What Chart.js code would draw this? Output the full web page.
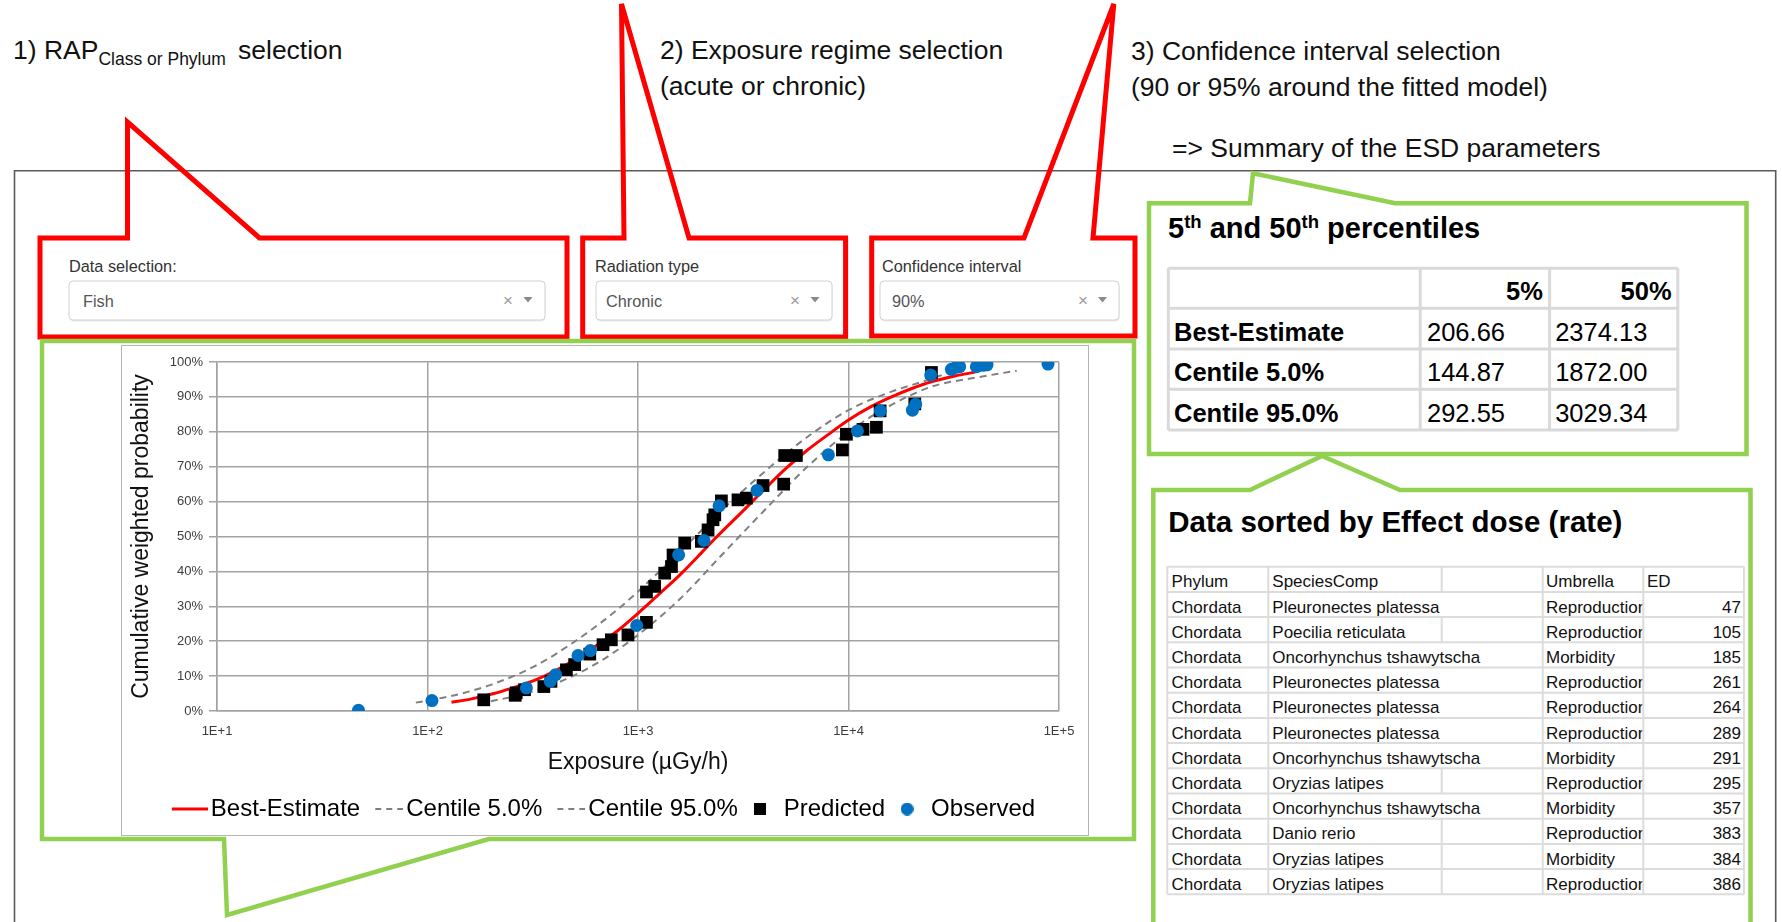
<!DOCTYPE html>
<html>
<head>
<meta charset="utf-8">
<title>ESD fit – Fish, chronic exposure</title>
<script src="https://cdn.jsdelivr.net/npm/chart.js@4.4.1/dist/chart.umd.min.js"></script>
<style>
  html, body { margin: 0; padding: 0; background: #fff; }
  body { width: 1782px; height: 922px; position: relative; overflow: hidden;
         font-family: 'Liberation Sans', Arial, sans-serif; }
  #overlay { position: absolute; left: 0; top: 0; }
  #chartBox { position: absolute; left: 121px; top: 345px; width: 968px; height: 491px; }
  #chartBox canvas { position: absolute; left: 0; top: 0; }
  #chartFrame { position: absolute; left: 121px; top: 345px; width: 968px; height: 491px;
                border: 1px solid #b4b4b4; box-sizing: border-box; pointer-events: none; }
</style>
</head>
<body>
<svg id="overlay" width="1782" height="922" xmlns="http://www.w3.org/2000/svg"></svg>
<div id="chartBox"><canvas id="esd" width="968" height="491"></canvas></div>
<div id="chartFrame"></div>

<script>
// ---------------- data ----------------
// Fitted species sensitivity curves (exposure in µGy/h, cumulative probability)
const bestX = [130, 160, 206.66, 250, 320, 400, 500, 630, 800, 1000, 1260, 1600, 2000, 2374.13,
               3200, 4000, 5000, 6300, 8000, 10000, 12600, 16000, 20000, 25000, 32000, 40000];
const bestP = [0.025, 0.034, 0.05, 0.065, 0.087, 0.114, 0.147, 0.186, 0.23, 0.28, 0.335, 0.393, 0.453, 0.5,
               0.577, 0.636, 0.693, 0.745, 0.792, 0.834, 0.87, 0.9, 0.924, 0.944, 0.96, 0.971];

const c5X = [88, 100, 125, 144.87, 200, 320, 500, 800, 1260, 1872, 2500, 4000, 6300, 10000, 16000, 22000, 29500];
const c5P = [0.024, 0.03, 0.041, 0.05, 0.075, 0.127, 0.199, 0.291, 0.399, 0.5, 0.575, 0.686, 0.783, 0.862, 0.915, 0.942, 0.968];

const c95X = [200, 250, 292.55, 400, 630, 1000, 1600, 2500, 3029.34, 4000, 6300, 10000, 16000, 25000, 40000, 63000];
const c95P = [0.028, 0.04, 0.05, 0.077, 0.135, 0.218, 0.324, 0.447, 0.5, 0.576, 0.697, 0.8, 0.877, 0.93, 0.955, 0.975];

// Predicted and observed effect dose rates
const predX = [185, 261, 264, 289, 357, 386, 457, 500, 590, 682, 747, 896, 1097, 1097, 1200, 1339, 1442, 1467,
               1667, 2000, 2152, 2272, 2316, 2490, 2985, 3273, 3926, 4920, 4977, 5655, 9355, 9775, 11720,
               13570, 14130, 20650, 24770];
const predP = [0.032, 0.045, 0.052, 0.061, 0.07, 0.085, 0.118, 0.133, 0.163, 0.19, 0.204, 0.218, 0.254, 0.341,
               0.357, 0.395, 0.414, 0.447, 0.481, 0.486, 0.519, 0.548, 0.562, 0.602, 0.605, 0.61, 0.646, 0.65,
               0.732, 0.732, 0.748, 0.793, 0.807, 0.813, 0.86, 0.88, 0.97];

const obsX = [47, 105, 295, 383, 406, 519, 594, 986, 1560, 2058, 2427, 3676, 8027, 11026, 14171, 20120, 20850,
              24580, 30820, 32540, 33730, 40520, 43550, 45500, 88660];
const obsP = [0.002, 0.03, 0.066, 0.085, 0.104, 0.159, 0.173, 0.245, 0.4475, 0.4885, 0.588, 0.632, 0.734, 0.8025,
              0.86, 0.862, 0.879, 0.963, 0.979, 0.985, 0.9865, 0.9865, 0.9905, 0.992, 0.994];

const seriesNames = ['Best-Estimate', 'Centile 5.0%', 'Centile 95.0%', 'Predicted', 'Observed'];
const xTickValues = [10, 100, 1000, 10000, 100000];

// Summary of the ESD parameters
const pctHeaders = ['5%', '50%'];
const summaryRows = ['Best-Estimate', 'Centile 5.0%', 'Centile 95.0%'];
const hc5 = [206.66, 144.87, 292.55];
const hc50 = [2374.13, 1872.00, 3029.34];

// Effect data sorted by dose rate
const tableHeader = ['Phylum', 'SpeciesComp', 'Umbrella', 'ED'];
const phylum = ['Chordata', 'Chordata', 'Chordata', 'Chordata', 'Chordata', 'Chordata',
                'Chordata', 'Chordata', 'Chordata', 'Chordata', 'Chordata', 'Chordata'];
const species = ['Pleuronectes platessa', 'Poecilia reticulata', 'Oncorhynchus tshawytscha', 'Pleuronectes platessa',
                 'Pleuronectes platessa', 'Pleuronectes platessa', 'Oncorhynchus tshawytscha', 'Oryzias latipes',
                 'Oncorhynchus tshawytscha', 'Danio rerio', 'Oryzias latipes', 'Oryzias latipes'];
const umbrella = ['Reproduction', 'Reproduction', 'Morbidity', 'Reproduction', 'Reproduction', 'Reproduction',
                  'Morbidity', 'Reproduction', 'Morbidity', 'Reproduction', 'Morbidity', 'Reproduction'];
const edValues = [47, 105, 185, 261, 264, 289, 291, 295, 357, 383, 384, 386];

// Selector states
const selectors = [
  { label: 'Data selection:', value: 'Fish' },
  { label: 'Radiation type', value: 'Chronic' },
  { label: 'Confidence interval', value: '90%' }
];

// ---------------- page decorations (SVG) ----------------
const NS = 'http://www.w3.org/2000/svg';
const svg = document.getElementById('overlay');
const FONT = "'Liberation Sans', Arial, sans-serif";
function el(tag, attrs, parent) {
  const e = document.createElementNS(NS, tag);
  for (const k in attrs) e.setAttribute(k, attrs[k]);
  (parent || svg).appendChild(e);
  return e;
}
function text(x, y, s, attrs, parent) {
  const t = el('text', Object.assign({ x: x, y: y, 'font-family': FONT }, attrs || {}), parent);
  t.textContent = s;
  return t;
}
function span(parent, s, attrs) {
  const t = el('tspan', attrs || {}, parent);
  t.textContent = s;
  return t;
}
function poly(points, stroke, width) {
  el('polygon', { points: points.map(p => p.join(',')).join(' '), fill: 'none', stroke: stroke,
                  'stroke-width': width, 'stroke-linejoin': 'miter' });
}

// application frame
el('path', { d: 'M14.5 930 V170.7 H1775.7 V930', fill: 'none', stroke: '#5a5a5a', 'stroke-width': 1.6 });

// step annotations
const a1 = text(13, 59, '', { 'font-size': 26.5, fill: '#111' });
span(a1, '1) RAP');
span(a1, 'Class or Phylum', { 'font-size': 17.5, dy: 6 });
span(a1, 'selection', { x: 238, dy: -6 });
text(660, 59, '2) Exposure regime selection', { 'font-size': 26.5, fill: '#111' });
text(660, 95, '(acute or chronic)', { 'font-size': 26.5, fill: '#111' });
text(1131, 60, '3) Confidence interval selection', { 'font-size': 26.5, fill: '#111' });
text(1131, 96, '(90 or 95% around the fitted model)', { 'font-size': 26.5, fill: '#111' });
text(1172, 157, '=> Summary of the ESD parameters', { 'font-size': 26.5, fill: '#111' });

// selector widgets
const selGeom = [
  { lx: 69, bx: 69, bw: 476, vx: 83, xx: 508, ax: 528 },
  { lx: 595, bx: 596, bw: 236, vx: 606, xx: 795, ax: 815 },
  { lx: 882, bx: 880, bw: 239, vx: 892, xx: 1083, ax: 1102.5 }
];
selectors.forEach((s, i) => {
  const g = selGeom[i];
  text(g.lx, 272, s.label, { 'font-size': 16.3, fill: '#333' });
  el('rect', { x: g.bx + 0.5, y: 282.5, width: g.bw, height: 39, rx: 4, fill: '#ececec' });
  el('rect', { x: g.bx, y: 281, width: g.bw, height: 39, rx: 4, fill: '#fff', stroke: '#d2d2d2', 'stroke-width': 1 });
  text(g.vx, 307, s.value, { 'font-size': 16.3, fill: '#555' });
  text(g.xx, 305.5, '×', { 'font-size': 17, fill: '#9a9a9a', 'text-anchor': 'middle' });
  el('polygon', { points: `${g.ax - 4.5},297 ${g.ax + 4.5},297 ${g.ax},302.5`, fill: '#8a8a8a' });
});

// red callouts around the selectors
const RED = '#ff0000';
poly([[40, 238], [127.5, 238], [127.5, 122], [259.5, 238], [567, 238], [567, 337], [40, 337]], RED, 5);
poly([[582.7, 238], [624, 238], [621.5, 4], [689, 238], [845.6, 238], [845.6, 337], [582.7, 337]], RED, 5);
poly([[871.7, 238], [1024, 238], [1113.8, 4], [1093, 238], [1135, 238], [1135, 336], [871.7, 336]], RED, 5);

// green callouts
const GREEN = '#92d050';
poly([[42, 341], [1134, 341], [1134, 839], [488.7, 839], [227, 915], [224, 839], [42, 839]], GREEN, 4.5);
poly([[1149, 203.3], [1250, 203.3], [1253, 173.3], [1395, 203.3], [1746.5, 203.3], [1746.5, 454], [1149, 454]], GREEN, 4.5);
poly([[1153.3, 490], [1250, 490], [1322, 456], [1400, 490], [1750.5, 490], [1750.5, 940], [1153.3, 940]], GREEN, 4.5);

// summary of percentiles
const st = text(1168, 238.3, '', { 'font-size': 29, 'font-weight': 'bold', fill: '#000' });
span(st, '5');
span(st, 'th', { 'font-size': 18.5, dy: -10 });
span(st, ' and 50', { dy: 10 });
span(st, 'th', { 'font-size': 18.5, dy: -10 });
span(st, ' percentiles', { dy: 10 });

const sCols = [1168.3, 1420.2, 1549.6, 1677.8];
const sRows = [268.3, 308.3, 349, 389.3, 430];
const GRID = '#d9d9d9';
sRows.forEach(y => el('line', { x1: sCols[0], x2: sCols[3], y1: y, y2: y, stroke: GRID, 'stroke-width': 3 }));
sCols.forEach(x => el('line', { x1: x, x2: x, y1: sRows[0], y2: sRows[4], stroke: GRID, 'stroke-width': 3 }));
text(1542.9, 300, pctHeaders[0], { 'font-size': 25.5, 'font-weight': 'bold', 'text-anchor': 'end' });
text(1671.6, 300, pctHeaders[1], { 'font-size': 25.5, 'font-weight': 'bold', 'text-anchor': 'end' });
summaryRows.forEach((r, i) => {
  const y = sRows[i + 2] - 8.5;
  text(1174, y, r, { 'font-size': 25.5, 'font-weight': 'bold' });
  text(1427, y, hc5[i].toFixed(2), { 'font-size': 25.5 });
  text(1555.2, y, hc50[i].toFixed(2), { 'font-size': 25.5 });
});

// data table
text(1168.3, 531.7, 'Data sorted by Effect dose (rate)', { 'font-size': 29.5, 'font-weight': 'bold', fill: '#000' });
const tCols = [1167.3, 1268.3, 1441.7, 1542.7, 1643.3, 1744];
const rowH = 25.2, tTop = 566.7, nRows = edValues.length + 1;
const defs = el('defs', {});
const clip = el('clipPath', { id: 'umbClip' }, defs);
el('rect', { x: tCols[3], y: tTop, width: tCols[4] - tCols[3] - 1, height: rowH * nRows }, clip);
for (let i = 0; i <= nRows; i++) {
  const y = tTop + i * rowH;
  el('line', { x1: tCols[0], x2: tCols[5], y1: y, y2: y, stroke: '#dcdcdc', 'stroke-width': 2 });
}
[0, 1, 3, 4, 5].forEach(c => el('line', { x1: tCols[c], x2: tCols[c], y1: tTop, y2: tTop + rowH * nRows,
                                          stroke: '#dcdcdc', 'stroke-width': 2 }));
const TF = { 'font-size': 17, fill: '#111' };
function tableRow(i, cells, overflow) {
  const top = tTop + i * rowH, base = top + 20.7;
  if (!overflow) el('line', { x1: tCols[2], x2: tCols[2], y1: top, y2: top + rowH, stroke: '#dcdcdc', 'stroke-width': 2 });
  text(tCols[0] + 4.3, base, cells[0], TF);
  text(tCols[1] + 4, base, cells[1], TF);
  text(tCols[3] + 3.3, base, cells[2], Object.assign({ 'clip-path': 'url(#umbClip)' }, TF));
  if (i === 0) text(tCols[4] + 3.7, base, cells[3], TF);
  else text(tCols[5] - 3, base, cells[3], Object.assign({ 'text-anchor': 'end' }, TF));
}
tableRow(0, tableHeader, false);
edValues.forEach((v, i) => {
  tableRow(i + 1, [phylum[i], species[i], umbrella[i], String(v)], species[i].length > 20);
});

// ---------------- chart ----------------
Chart.defaults.font.family = FONT;
const pts = (xs, ps) => xs.map((x, i) => ({ x: x, y: ps[i] }));

// legend symbols, offset so the glyph sits just before its label
function legendIcon(draw, w, h) {
  const c = document.createElement('canvas');
  c.width = w; c.height = h;
  draw(c.getContext('2d'));
  return c;
}
const icons = [
  legendIcon(g => { g.strokeStyle = '#ff0000'; g.lineWidth = 3; g.beginPath(); g.moveTo(6, 4); g.lineTo(42, 4); g.stroke(); }, 42, 8),
  legendIcon(g => { g.strokeStyle = '#7f7f7f'; g.lineWidth = 2; g.setLineDash([6, 5]); g.beginPath(); g.moveTo(14, 4); g.lineTo(42, 4); g.stroke(); }, 42, 8),
  legendIcon(g => { g.strokeStyle = '#7f7f7f'; g.lineWidth = 2; g.setLineDash([6, 5]); g.beginPath(); g.moveTo(14, 4); g.lineTo(42, 4); g.stroke(); }, 42, 8),
  legendIcon(g => { g.fillStyle = '#000'; g.fillRect(0, 0, 12, 12); }, 12, 12),
  legendIcon(g => { g.fillStyle = '#0070c0'; g.beginPath(); g.arc(6.5, 6.5, 6.5, 0, Math.PI * 2); g.fill(); }, 13, 13)
];

const GRIDC = '#a3a3a3';
const lineBase = { showLine: true, pointRadius: 0, pointHoverRadius: 0, fill: false, cubicInterpolationMode: 'monotone' };

const legendShift = {
  id: 'legendShift',
  afterLayout(chart) { chart.legend.left += 15; chart.legend.right += 15; }
};

new Chart(document.getElementById('esd'), {
  type: 'scatter',
  data: {
    datasets: [
      Object.assign({ label: seriesNames[0], data: pts(bestX, bestP), borderColor: '#ff0000', borderWidth: 3, order: 2 }, lineBase),
      Object.assign({ label: seriesNames[1], data: pts(c5X, c5P), borderColor: '#808080', borderWidth: 2, borderDash: [7, 5], order: 3 }, lineBase),
      Object.assign({ label: seriesNames[2], data: pts(c95X, c95P), borderColor: '#808080', borderWidth: 2, borderDash: [7, 5], order: 4 }, lineBase),
      { label: seriesNames[3], data: pts(predX, predP), pointStyle: 'rect', pointRadius: 9, backgroundColor: '#000',
        borderWidth: 0, order: 1 },
      { label: seriesNames[4], data: pts(obsX, obsP), pointStyle: 'circle', pointRadius: 6.5, backgroundColor: '#0070c0',
        borderWidth: 0, order: 0 }
    ]
  },
  options: {
    responsive: false,
    animation: false,
    events: [],
    layout: { padding: { top: 17, right: 30, bottom: 5, left: 0 } },
    scales: {
      x: {
        type: 'logarithmic',
        min: 10, max: 100000,
        afterBuildTicks: s => { s.ticks = xTickValues.map(v => ({ value: v })); },
        afterFit: s => { s.height = 76; },
        ticks: {
          callback: v => '1E+' + Math.round(Math.log10(v)),
          font: { size: 13 }, color: '#3c3c3c', padding: 13, maxRotation: 0, autoSkip: false
        },
        grid: { color: GRIDC, lineWidth: 1.5, drawTicks: false },
        border: { color: GRIDC, width: 1.5 },
        title: { display: true, text: 'Exposure (µGy/h)', font: { size: 23 }, color: '#111', padding: { top: 0, bottom: 11 } }
      },
      y: {
        type: 'linear',
        min: 0, max: 1,
        afterFit: s => { s.width = 96; },
        ticks: {
          stepSize: 0.1,
          callback: v => Math.round(v * 100) + '%',
          font: { size: 13 }, color: '#3c3c3c', padding: 6
        },
        grid: { color: GRIDC, lineWidth: 1.5, drawTicks: true, tickLength: 8 },
        border: { color: GRIDC, width: 1.5 },
        title: { display: true, text: 'Cumulative weighted probability', font: { size: 23 }, color: '#111', padding: { top: 7, bottom: 0 } }
      }
    },
    plugins: {
      tooltip: { enabled: false },
      legend: {
        position: 'bottom',
        labels: {
          usePointStyle: true,
          pointStyleWidth: 24,
          padding: 10,
          font: { size: 24 },
          color: '#111',
          generateLabels: chart => chart.data.datasets.map((ds, i) => ({
            text: ds.label, datasetIndex: i, pointStyle: icons[i], hidden: false,
            fillStyle: 'rgba(0,0,0,0)', strokeStyle: 'rgba(0,0,0,0)', lineWidth: 0
          }))
        }
      }
    }
  },
  plugins: [legendShift]
});
</script>
</body>
</html>
